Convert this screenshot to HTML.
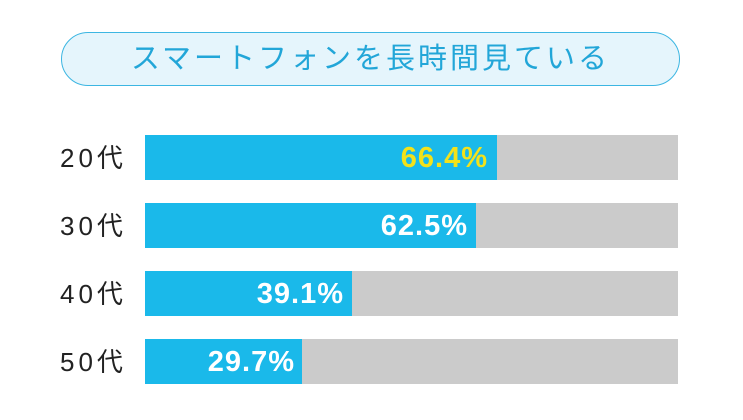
<!DOCTYPE html>
<html><head><meta charset="utf-8"><style>
body{margin:0;width:743px;height:420px;background:#fff;position:relative;overflow:hidden;font-family:"Liberation Sans","Noto Sans CJK JP",sans-serif}
.pill{position:absolute;left:61px;top:32px;width:617px;height:52px;border:1.5px solid #3cb6e2;border-radius:27px;background:#e5f5fc;color:#22a6d8;font-size:29px;text-align:center;line-height:52px;letter-spacing:3px}
.row{position:absolute;left:0;height:45px;width:743px}
.lab{position:absolute;left:60px;top:0;line-height:47px;font-size:26px;color:#222;letter-spacing:4px}
.bg{position:absolute;left:145px;top:0;width:533px;height:45px;background:#cbcbcb}
.fg{position:absolute;left:145px;top:0;height:45px;background:#1ab9ea}
.v{position:absolute;top:0;line-height:47px;font-size:29px;font-weight:bold;color:#fff;text-align:right;letter-spacing:1px}
</style></head><body>
<div class="pill">スマートフォンを長時間見ている</div>
<div class="row" style="top:135px"><div class="lab">20代</div><div class="bg"></div><div class="fg" style="width:352px"></div><div class="v" style="left:300px;width:188px;color:#f3e21a">66.4%</div></div>
<div class="row" style="top:203px"><div class="lab">30代</div><div class="bg"></div><div class="fg" style="width:331px"></div><div class="v" style="left:280px;width:188px">62.5%</div></div>
<div class="row" style="top:271px"><div class="lab">40代</div><div class="bg"></div><div class="fg" style="width:207px"></div><div class="v" style="left:156px;width:188px">39.1%</div></div>
<div class="row" style="top:339px"><div class="lab">50代</div><div class="bg"></div><div class="fg" style="width:157px"></div><div class="v" style="left:107px;width:188px">29.7%</div></div>
</body></html>
